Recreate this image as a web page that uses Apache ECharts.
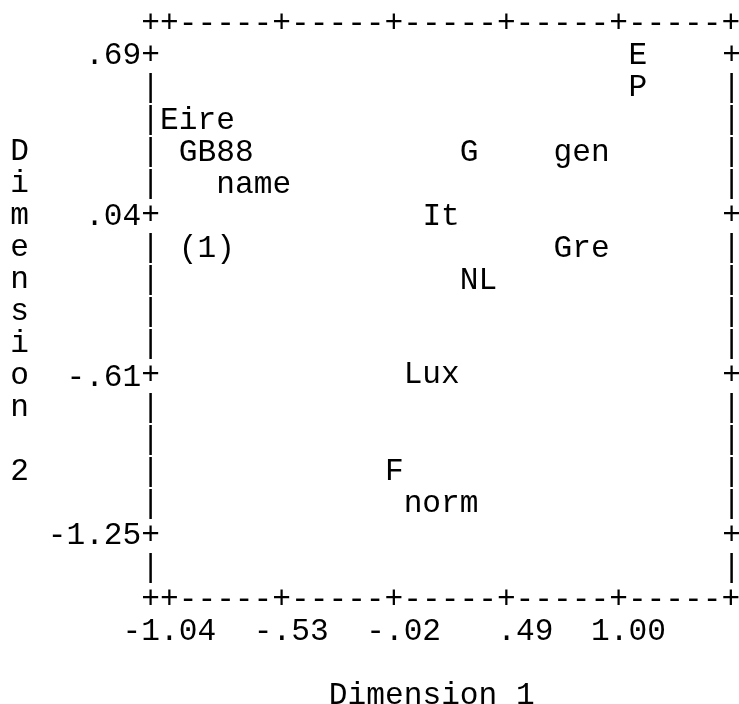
<!DOCTYPE html>
<html><head><meta charset="utf-8">
<script src="https://cdn.jsdelivr.net/npm/echarts@6/dist/echarts.min.js"></script>
<style>html,body{margin:0;padding:0;background:#fff}#c{width:739px;height:704px}</style>
</head><body><div id="c"></div>
<script>
// ---- data ----
const pointNames = ['E', 'P', 'Eire', 'GB88', 'name', 'G', 'gen', 'It', '(1)', 'Gre', 'NL', 'Lux', 'F', 'norm'];
const dim1 = [1.085, 1.085, -1.04, -0.955, -0.785, 0.32, 0.745, 0.15, -0.955, 0.745, 0.32, 0.065, -0.02, 0.065];
const dim2 = [0.69, 0.56, 0.43, 0.30, 0.17, 0.30, 0.30, 0.04, -0.09, -0.09, -0.22, -0.60, -0.99, -1.12];
const xTicks = [-1.04, -0.53, -0.02, 0.49, 1.00];
const xTickLabels = ['-1.04', '-.53', '-.02', '.49', '1.00'];
const yTicks = [0.69, 0.04, -0.61, -1.25];
const yTickLabels = ['.69', '.04', '-.61', '-1.25'];
const xTitle = 'Dimension 1';
const yTitle = 'Dimension 2';

// ---- layout ----
const FONT = 'Liberation Mono';
const FS = 31.2;
const CW = 18.74;           // character cell width
const xMin = -1.125, xMax = 1.51;
const yMin = -1.50867, yMax = 0.81933;

function lookup(v, ticks, labels) {
  for (let i = 0; i < ticks.length; i++) if (Math.abs(ticks[i] - v) < 1e-6) return labels[i];
  return '';
}

const chart = echarts.init(document.getElementById('c'), null, {renderer: 'canvas'});
const txt = {fontFamily: FONT, fontSize: FS, color: '#000'};

chart.setOption({
  animation: false,
  backgroundColor: '#fff',
  grid: {left: 150.65, right: 7.4, top: 24, bottom: 104, containLabel: false, outerBoundsMode: 'none'},
  xAxis: {
    type: 'value', min: xMin, max: xMax,
    axisLine: {show: false}, axisTick: {show: false}, splitLine: {show: false},
    axisLabel: Object.assign({}, txt, {
      customValues: xTicks, margin: 32, align: 'center', verticalAlign: 'middle',
      formatter: v => lookup(v, xTicks, xTickLabels).padStart(5, ' ')
    }),
    name: xTitle, nameLocation: 'middle', nameGap: 96,
    nameTextStyle: Object.assign({}, txt, {align: 'center', verticalAlign: 'middle', padding: [0, 18.7, 0, 0]})
  },
  yAxis: {
    type: 'value', min: yMin, max: yMax,
    axisLine: {show: false}, axisTick: {show: false}, splitLine: {show: false},
    axisLabel: Object.assign({}, txt, {
      customValues: yTicks, margin: CW / 2, align: 'right', verticalAlign: 'middle',
      formatter: v => lookup(v, yTicks, yTickLabels)
    }),
    name: yTitle.split('').join('\n'), nameLocation: 'middle', nameRotate: 0, nameGap: 131.1,
    nameTextStyle: Object.assign({}, txt, {align: 'center', verticalAlign: 'middle', lineHeight: 32})
  },
  series: [{
    type: 'scatter',
    symbolSize: 1,
    itemStyle: {color: 'rgba(0,0,0,0)', opacity: 1},
    data: pointNames.map((n, i) => ({name: n, value: [dim1[i], dim2[i]]})),
    label: Object.assign({}, txt, {
      show: true, position: 'inside', align: 'left', verticalAlign: 'middle',
      offset: [-CW / 2, 0], formatter: p => p.name
    }),
    emphasis: {disabled: true}
  }]
});

// ---- ASCII frame, positioned from the grid's own coordinate system ----
const tl = chart.convertToPixel({gridIndex: 0}, [xMin, yMax]);
const br = chart.convertToPixel({gridIndex: 0}, [xMax, yMin]);
const cw = (br[0] - tl[0]) / 31;
const rh = (br[1] - tl[1]) / 18;
const tickCols = xTicks.map(v => Math.round((chart.convertToPixel({gridIndex: 0}, [v, 0])[0] - tl[0]) / cw));
const tickRows = yTicks.map(v => Math.round((chart.convertToPixel({gridIndex: 0}, [0, v])[1] - tl[1]) / rh));
let hb = '';
for (let c = 0; c <= 31; c++) {
  hb += (c === 0 || c === 31 || tickCols.includes(c) || (c - tickCols[0]) % 6 === 0) ? '+' : '-';
}
const gfx = [];
const style = (t, x, y, align) => ({type: 'text', x: x, y: y, silent: true,
  style: {text: t, fontFamily: FONT, fontSize: FS, fill: '#000', align: align, verticalAlign: 'middle'}});
gfx.push(style(hb, tl[0] - cw / 2, tl[1], 'left'));
gfx.push(style(hb, tl[0] - cw / 2, br[1], 'left'));
for (let r = 1; r <= 17; r++) {
  const ch = tickRows.includes(r) ? '+' : '|';
  gfx.push(style(ch, tl[0], tl[1] + r * rh, 'center'));
  gfx.push(style(ch, br[0], tl[1] + r * rh, 'center'));
}
chart.setOption({graphic: gfx});
</script>
</body></html>
